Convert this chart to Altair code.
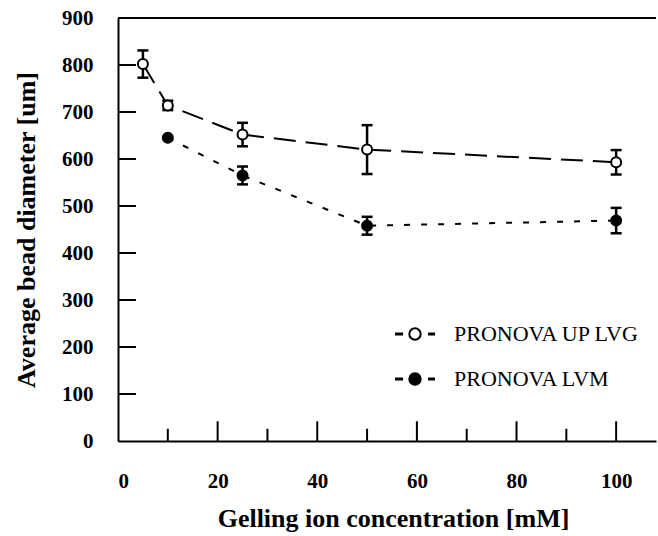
import altair as alt
import pandas as pd

# ---- data ----
series_names = ["PRONOVA UP LVG", "PRONOVA LVM"]
lvg_x = [5, 10, 25, 50, 100]
lvg_y = [802, 714, 652, 620, 593]
lvg_err = [29, 10, 25, 52, 26]
lvm_x = [10, 25, 50, 100]
lvm_y = [645, 565, 458, 469]
lvm_err = [0, 19, 19, 27]

x_major = [20, 40, 60, 80, 100]
x_minor = [10, 30, 50, 70, 90]
y_ticks = [100, 200, 300, 400, 500, 600, 700, 800]

rows = []
for xs_, ys_, es_, name in [(lvg_x, lvg_y, lvg_err, series_names[0]),
                            (lvm_x, lvm_y, lvm_err, series_names[1])]:
    for x, y, e in zip(xs_, ys_, es_):
        rows.append({"x": x, "y": y, "lo": y - e, "hi": y + e, "err": e, "series": name})
df = pd.DataFrame(rows)

XD = [0, 108]
YD = [0, 900]
xs = alt.Scale(domain=XD, nice=False, zero=False)
ys = alt.Scale(domain=YD, nice=False, zero=False)

FONT = "Liberation Serif"
AX = dict(labelFont=FONT, labelFontSize=21, labelFontWeight="bold", labelColor="black",
          titleFont=FONT, titleFontWeight="bold", titleColor="black", titleFontSize=26,
          tickSize=0, grid=False, domainColor="black", domainWidth=2)

base = alt.Chart(df)

xenc = alt.X("x:Q", scale=xs,
             axis=alt.Axis(title="Gelling ion concentration [mM]", values=[0, 20, 40, 60, 80, 100],
                           labelPadding=29, titlePadding=14,
                           titleX=275, titleAlign="center", **AX))
yenc = alt.Y("y:Q", scale=ys,
             axis=alt.Axis(title="Average bead diameter [um]", values=list(range(0, 901, 100)),
                           labelPadding=25, titlePadding=22, **AX))

line_lvg = base.transform_filter(alt.datum.series == series_names[0]).mark_line(
    color="black", strokeWidth=2, strokeDash=[22, 10]).encode(x=xenc, y=yenc)
line_lvm = base.transform_filter(alt.datum.series == series_names[1]).mark_line(
    color="black", strokeWidth=2, strokeDash=[6, 11]).encode(x=xenc, y=yenc)

ebars = base.transform_filter("datum.err > 0").mark_errorbar(
    color="black", opacity=1,
    ticks={"size": 11, "thickness": 2.5, "color": "black", "opacity": 1},
    rule={"strokeWidth": 2.5, "color": "black", "opacity": 1},
).encode(
    x=alt.X("x:Q", scale=xs),
    y=alt.Y("lo:Q", scale=ys, title=""),
    y2="hi:Q",
)

legend_path = ("M-1,-0.025 L-0.68,-0.025 L-0.68,0.025 L-1,0.025 Z "
               "M0.74,-0.025 L1,-0.025 L1,0.025 L0.74,0.025 Z "
               "M-0.3,0 A0.3,0.3 0 1,0 0.3,0 A0.3,0.3 0 1,0 -0.3,0 Z")

points = base.mark_point(shape="circle", size=100, stroke="black", strokeWidth=2,
                         opacity=1, filled=False).encode(
    x=alt.X("x:Q", scale=xs),
    y=alt.Y("y:Q", scale=ys),
    fill=alt.Fill("series:N",
                  scale=alt.Scale(domain=series_names, range=["white", "black"]),
                  legend=alt.Legend(title=None, orient="none", legendX=277, legendY=296,
                                    symbolType=legend_path, symbolSize=1444,
                                    symbolStrokeColor="black", symbolStrokeWidth=2,
                                    symbolOpacity=1, labelLimit=400,
                                    labelFont=FONT, labelFontSize=22, labelColor="black",
                                    labelOffset=19, rowPadding=14, padding=0)),
)

# inward tick marks and top frame drawn through the scales
xmaj_df = pd.DataFrame({"t": x_major})
xmin_df = pd.DataFrame({"t": x_minor})
ytk_df = pd.DataFrame({"t": y_ticks})

xmaj = alt.Chart(xmaj_df).mark_rule(color="black", strokeWidth=2).encode(
    x=alt.X("t:Q", scale=xs), y=alt.datum(0, scale=ys), y2=alt.datum(42))
xmin = alt.Chart(xmin_df).mark_rule(color="black", strokeWidth=2).encode(
    x=alt.X("t:Q", scale=xs), y=alt.datum(0, scale=ys), y2=alt.datum(26))
ytk = alt.Chart(ytk_df).mark_rule(color="black", strokeWidth=2).encode(
    y=alt.Y("t:Q", scale=ys), x=alt.datum(0, scale=xs), x2=alt.datum(3.6))
top = alt.Chart(pd.DataFrame({"t": [900]})).mark_rule(color="black", strokeWidth=2).encode(
    y=alt.Y("t:Q", scale=ys), x=alt.datum(0, scale=xs), x2=alt.datum(108))

chart = alt.layer(line_lvg, line_lvm, ebars, points, xmaj, xmin, ytk, top).properties(
    width=538, height=423,
    autosize=alt.AutoSizeParams(type="none"),
    padding={"left": 118, "top": 18, "right": 2, "bottom": 95},
    background="white",
).configure_view(stroke=None)

chart.save("out.html", embed_options={"renderer": "svg", "actions": False})
